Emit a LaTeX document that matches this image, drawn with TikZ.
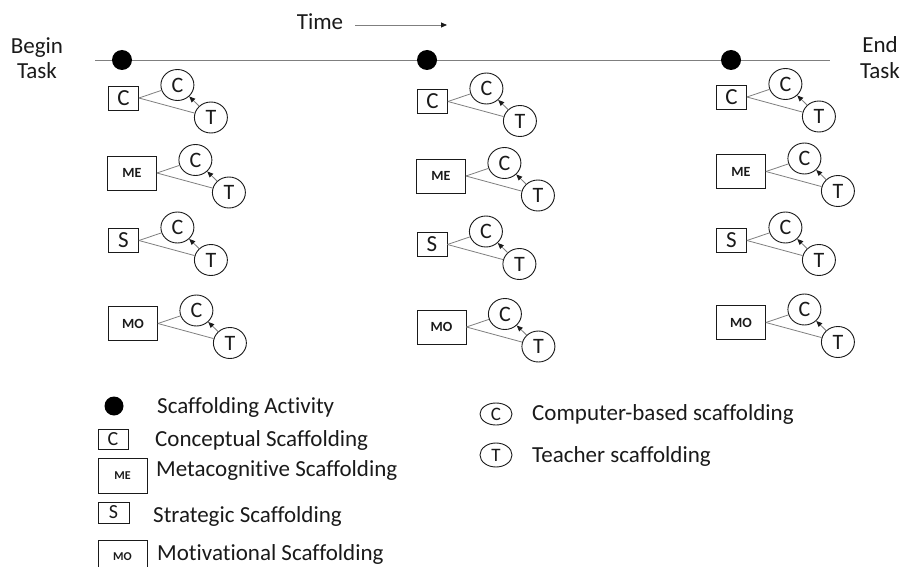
\documentclass[tikz,border=0pt]{standalone}
\usepackage{fontspec}
\setmainfont{Carlito}[Ligatures=NoCommon]
\usetikzlibrary{arrows.meta,shapes.geometric}
\definecolor{ink}{HTML}{1A1A1A}
\definecolor{wire}{HTML}{7F7F7F}

\tikzset{
  kindbox/.style={draw=ink, line width=0.9pt, inner sep=0pt, text=ink},
  narrowbox/.style={kindbox, anchor=west, minimum width=30pt, minimum height=24pt,
    font=\fontsize{23}{23}\selectfont},
  widebox/.style={kindbox, anchor=west, minimum width=49pt, minimum height=34pt,
    font=\fontsize{14}{14}\selectfont\bfseries},
  agent/.style={draw=ink, ellipse, line width=0.9pt, inner sep=0pt,
    minimum width=33pt, minimum height=31pt, text=ink,
    font=\fontsize{22}{22}\selectfont},
  link/.style={draw=wire, line width=0.8pt},
  handoff/.style={link, -{Triangle[length=6pt,width=5pt,color=ink]}},
  event/.style={circle, fill=black, minimum size=20pt, inner sep=0pt},
  plaintext/.style={font=\fontsize{23}{23}\selectfont, text=ink, inner sep=0pt, anchor=base},
  keytext/.style={plaintext, anchor=base west},
}

% one scaffolding kind with its computer (C) and teacher (T) sources
\newcommand\scafgroup[5]{%
  \node[#4] (#1) at (#2,#3) {#5};
  \node[agent] (#1c) at ([shift={(38.5,-13)}]#1.east) {C};
  \node[agent] (#1t) at ([shift={(72,19.5)}]#1.east) {T};
  \draw[link] (#1.east) -- (#1c);
  \draw[link] (#1.east) -- (#1t);
  \draw[handoff] (#1t) -- (#1c);
}

\begin{document}
\begin{tikzpicture}[x=1pt, y=-1pt]
\useasboundingbox (0,0) rectangle (904,567);
\clip (0,0) rectangle (904,567);

% time axis
\node[plaintext] (timelbl) at (320,30) {Time};
\coordinate (ta) at (355,25);
\coordinate (tb) at (447,25);
\draw[handoff] (ta) -- (tb);

\coordinate (tl0) at (95,60);
\coordinate (tl1) at (830,60);
\draw[link] (tl0) -- (tl1);
\node[event] (ev1) at (122,60) {};
\node[event] (ev2) at (427,60) {};
\node[event] (ev3) at (731,60) {};

\node[plaintext] (begin) at (37,54) {Begin};
\node[plaintext] (begintask) at (37,79) {Task};
\node[plaintext] (end) at (880,53) {End};
\node[plaintext] (endtask) at (880,79) {Task};

% first activity
\scafgroup{aC}{108}{98}{narrowbox}{C}
\scafgroup{aME}{107}{173}{widebox}{ME}
\scafgroup{aS}{108}{240.5}{narrowbox}{S}
\scafgroup{aMO}{108}{323.5}{widebox}{MO}
% second activity
\scafgroup{bC}{417}{101.5}{narrowbox}{C}
\scafgroup{bME}{416}{176}{widebox}{ME}
\scafgroup{bS}{416.5}{244.5}{narrowbox}{S}
\scafgroup{bMO}{416.5}{327}{widebox}{MO}
% third activity
\scafgroup{cC}{716}{97}{narrowbox}{C}
\scafgroup{cME}{716}{171.5}{widebox}{ME}
\scafgroup{cS}{716}{240.5}{narrowbox}{S}
\scafgroup{cMO}{716}{322.5}{widebox}{MO}

% key
\node[event, minimum size=19pt] (kdot) at (114,406) {};
\node[keytext] (kdott) at (157,413) {Scaffolding Activity};

\node[kindbox, minimum width=30pt, minimum height=20pt, font=\fontsize{20}{20}\selectfont] (kC) at (113,439) {C};
\node[keytext] (kCt) at (155,446) {Conceptual Scaffolding};

\node[kindbox, minimum width=49pt, minimum height=35pt, font=\fontsize{12}{12}\selectfont\bfseries] (kME) at (122.5,475.5) {ME};
\node[keytext] (kMEt) at (156,476) {Metacognitive Scaffolding};

\node[kindbox, minimum width=31pt, minimum height=21pt, font=\fontsize{20}{20}\selectfont] (kS) at (113.5,512.5) {S};
\node[keytext] (kSt) at (153,522) {Strategic Scaffolding};

\node[kindbox, minimum width=49pt, minimum height=34pt, font=\fontsize{12}{12}\selectfont\bfseries] (kMO) at (122.5,557) {MO};
\node[keytext] (kMOt) at (157,560) {Motivational Scaffolding};

\node[agent, minimum width=32pt, minimum height=22pt, font=\fontsize{19}{19}\selectfont] (kCc) at (496,414) {C};
\node[keytext] (kCct) at (532,420) {Computer-based scaffolding};

\node[agent, minimum width=32pt, minimum height=24pt, font=\fontsize{19}{19}\selectfont] (kTc) at (496,455) {T};
\node[keytext] (kTct) at (532,462) {Teacher scaffolding};
\end{tikzpicture}
\end{document}
